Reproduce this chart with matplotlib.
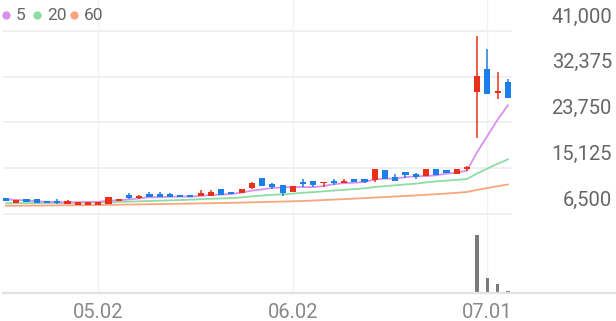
import matplotlib.pyplot as plt
from matplotlib.lines import Line2D
import numpy as np

plt.rcParams['font.family'] = ['Roboto', 'DejaVu Sans']

# trading days (2025)
dates = ["04.18", "04.21", "04.22", "04.23", "04.24", "04.25", "04.28", "04.29", "04.30", "05.02",
         "05.07", "05.08", "05.09", "05.12", "05.13", "05.14", "05.15", "05.16", "05.19", "05.20",
         "05.21", "05.22", "05.23", "05.26", "05.27", "05.28", "05.29", "05.30", "06.02", "06.04",
         "06.05", "06.09", "06.10", "06.11", "06.12", "06.13", "06.16", "06.17", "06.18", "06.19",
         "06.20", "06.23", "06.24", "06.25", "06.26", "06.27", "06.30", "07.01", "07.02", "07.03"]

opens = [9460, 8630, 9330, 9270, 8890, 8890, 8390, 8250, 8250, 8250,
         8390, 9000, 10080, 9450, 10210, 10270, 10210, 10080, 10080, 9890,
         9890, 11210, 10700, 10510, 11460, 13340, 12100, 11970, 10650, 12590,
         12780, 12340, 12720, 12290, 13100, 13100, 12910, 14790, 13530, 14420,
         14040, 13580, 14930, 14790, 14040, 14890, 29440, 33780, 29370, 31440]
highs = [9500, 9140, 9400, 9270, 8890, 9330, 9140, 8820, 8820, 8700,
         9760, 9330, 10510, 10080, 10700, 10590, 10400, 10080, 10080, 11020,
         11020, 11210, 10700, 11160, 12530, 13340, 12400, 11970, 11780, 13040,
         12780, 12530, 13040, 13040, 13100, 13100, 14930, 14790, 13980, 14420,
         14290, 14980, 14930, 14790, 14930, 15640, 40050, 37550, 33320, 31890]
lows = [8950, 8630, 8820, 8520, 8520, 8330, 8390, 8250, 8250, 8250,
        8390, 9000, 9330, 9270, 9650, 9760, 9760, 9760, 9760, 9890,
        9890, 10140, 10270, 10510, 11270, 11840, 11270, 9890, 10650, 11650,
        11530, 11650, 12020, 12290, 12480, 12290, 12530, 13040, 12780, 13290,
        13150, 13580, 13910, 14230, 14040, 14700, 20770, 29120, 28120, 28420]
closes = [8950, 9140, 8820, 8520, 8520, 8630, 9000, 8820, 8820, 8700,
          9760, 9330, 9570, 9890, 9760, 9760, 9760, 9760, 9760, 10510,
          10650, 10140, 10270, 11160, 12290, 11840, 11590, 10510, 11780, 12100,
          11910, 12530, 12290, 12780, 12480, 12590, 14930, 13040, 12780, 13850,
          13530, 14980, 13910, 14230, 14930, 15270, 32570, 29120, 29630, 28420]

ma5 = [9250, 9150, 9050, 8900, 8790, 8726, 8698, 8698, 8758, 8794,
       9020, 9086, 9236, 9450, 9662, 9662, 9748, 9786, 9760, 9910,
       10088, 10164, 10266, 10546, 10902, 11140, 11430, 11478, 11602, 11564,
       11578, 11766, 12122, 12322, 12398, 12534, 13014, 13164, 13164, 13438,
       13626, 13636, 13810, 14100, 14316, 14664, 18182, 21224, 24304, 27002]
ma20 = [8520, 8540, 8550, 8560, 8570, 8590, 8610, 8630, 8650, 8680,
        8730, 8780, 8830, 8890, 8950, 9010, 9070, 9130, 9200, 9291,
        9376, 9426, 9498, 9630, 9819, 9979, 10109, 10193, 10341, 10511,
        10619, 10779, 10915, 11059, 11195, 11337, 11595, 11759, 11910, 12077,
        12221, 12463, 12645, 12799, 12931, 13102, 14151, 15082, 15974, 16790]
ma60 = [8050, 8065, 8080, 8095, 8110, 8125, 8140, 8160, 8180, 8200,
        8225, 8250, 8280, 8310, 8340, 8370, 8400, 8430, 8460, 8495,
        8530, 8570, 8610, 8650, 8700, 8750, 8800, 8850, 8900, 8950,
        9040, 9130, 9220, 9310, 9400, 9490, 9600, 9700, 9800, 9900,
        10000, 10120, 10240, 10360, 10500, 10650, 11050, 11390, 11740, 12070]

volume = [30, 25, 20, 30, 20, 25, 30, 20, 20, 20,
          50, 30, 40, 30, 30, 25, 20, 20, 20, 40,
          40, 30, 25, 40, 60, 50, 40, 50, 40, 40,
          30, 30, 30, 30, 25, 25, 60, 50, 30, 30,
          30, 40, 30, 25, 30, 40, 5800, 1470, 870, 170]

price_ticks = [6500, 15125, 23750, 32375, 41000]
date_ticks = ["05.02", "06.02", "07.01"]

UP, DOWN = '#e8311a', '#1a7fe8'
MA_COLORS = {'5': '#d891ec', '20': '#8fdca2', '60': '#f9a57f'}
GRID = '#eeeeee'

W, H = 616, 321
fig = plt.figure(figsize=(W / 100, H / 100), dpi=100)
ax = fig.add_axes([3 / W, (H - 225) / H, 509 / W, 225 / H])
axv = fig.add_axes([3 / W, (H - 293) / H, 509 / W, 68 / H])

x = np.arange(len(dates))
o, hi, lo, c = map(np.array, (opens, highs, lows, closes))
colors = [UP if cc >= oo else DOWN for oo, cc in zip(o, c)]

for a in (ax, axv):
    a.set_xlim(-0.3, 49.4)
    for s in a.spines.values():
        s.set_visible(False)
    a.tick_params(length=0)
    a.set_yticks([])

ax.set_ylim(4426, 46844)
ax.set_xticks([])
for v in price_ticks:
    ax.axhline(v, color=GRID, lw=1.2, zorder=0)
    ax.annotate(f"{v:,}", xy=(612 / W, v), xycoords=('figure fraction', 'data'),
                xytext=(0, 10), textcoords='offset points', ha='right', va='center',
                fontsize=14.5, color='#666666', annotation_clip=False)

tick_idx = [dates.index(d) for d in date_ticks]
for i in tick_idx:
    ax.axvline(i, color='#f2f2f2', lw=1, zorder=0)
    axv.axvline(i, color='#f2f2f2', lw=1, zorder=0)

# moving averages
ax.plot(x, ma60, color=MA_COLORS['60'], lw=1.3, zorder=1)
ax.plot(x, ma20, color=MA_COLORS['20'], lw=1.3, zorder=1)
ax.plot(x, ma5, color=MA_COLORS['5'], lw=1.3, zorder=1)

# candles
ax.vlines(x, lo, hi, colors=colors, lw=1.1, zorder=2)
body_lo = np.minimum(o, c)
body_h = np.maximum(np.abs(c - o), 250)
ax.bar(x, body_h, bottom=body_lo, width=0.6, color=colors, zorder=3)

# volume
axv.bar(x, volume, width=0.35, color='#7a7a7a', zorder=2)
axv.set_ylim(0, 6800)
axv.set_xticks(tick_idx)
axv.set_xticklabels(date_ticks, fontsize=14.5, color='#888888')
axv.tick_params(axis='x', pad=7)

fig.add_artist(Line2D([3 / W, 1], [(H - 293) / H] * 2, color='#e2e2e2', lw=1.6))

# legend
lx = [6, 37, 74]
for px, (name, col) in zip(lx, MA_COLORS.items()):
    fig.add_artist(Line2D([px / W], [(H - 15) / H], marker='o', markersize=6,
                          color=col, markeredgewidth=0))
    fig.text((px + 10) / W, (H - 15) / H, name, fontsize=12.5, color='#666666',
             va='center', ha='left')

fig.savefig('out.png', dpi=100)
